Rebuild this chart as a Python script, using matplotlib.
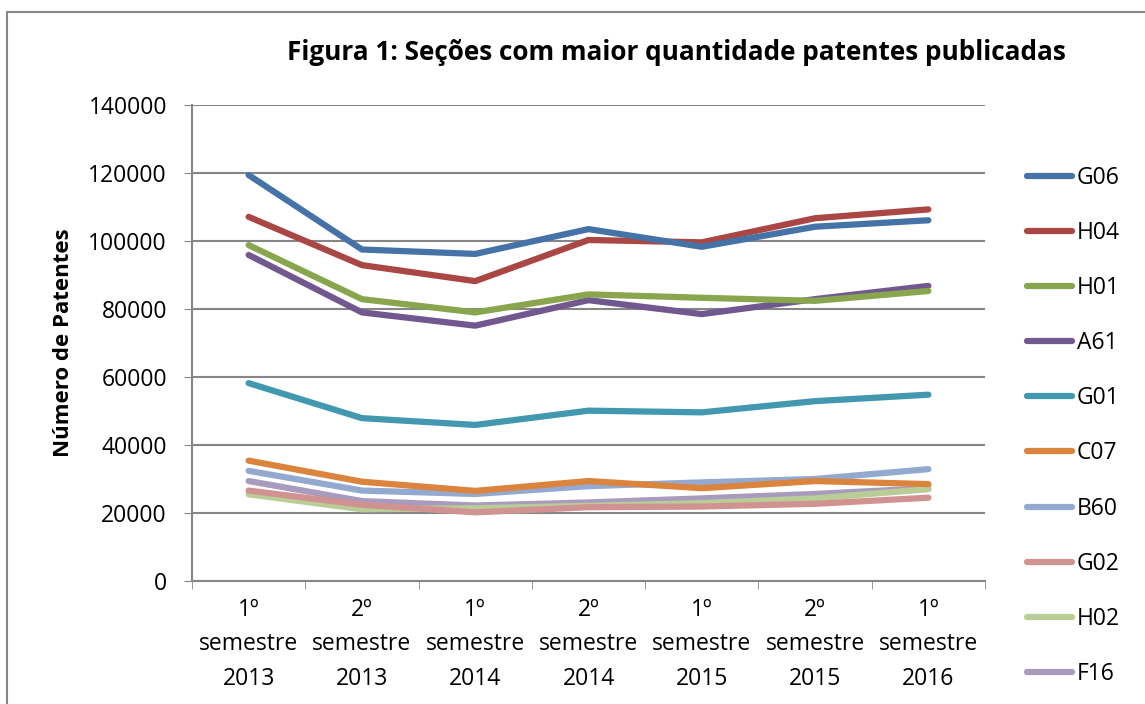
import matplotlib.pyplot as plt
from matplotlib.patches import Rectangle

plt.rcParams['font.family'] = ['Open Sans', 'DejaVu Sans']

periodos = ["1º\nsemestre\n2013", "2º\nsemestre\n2013", "1º\nsemestre\n2014",
            "2º\nsemestre\n2014", "1º\nsemestre\n2015", "2º\nsemestre\n2015",
            "1º\nsemestre\n2016"]

G06 = [119400, 97500, 96200, 103500, 98300, 104200, 106100]
H04 = [107100, 92900, 88200, 100300, 99600, 106700, 109300]
H01 = [98800, 82900, 79000, 84300, 83300, 82400, 85300]
A61 = [95900, 79000, 75100, 82600, 78500, 82900, 86800]
G01 = [58200, 47900, 45900, 50100, 49600, 52900, 54800]
C07 = [35400, 29200, 26500, 29400, 27300, 29400, 28500]
B60 = [32400, 26600, 25600, 27900, 29000, 30000, 32900]
G02 = [26600, 22400, 20200, 21700, 21900, 22700, 24500]
H02 = [25500, 21100, 21400, 22100, 22900, 24300, 27000]
F16 = [29400, 23500, 22200, 23100, 24300, 25600, 27300]

series = [("G06", G06, "#4572A7"), ("H04", H04, "#AA4643"),
          ("H01", H01, "#89A54E"), ("A61", A61, "#71588F"),
          ("G01", G01, "#4198AF"), ("C07", C07, "#DB843D"),
          ("B60", B60, "#93A9CF"), ("G02", G02, "#D19392"),
          ("H02", H02, "#B9CD96"), ("F16", F16, "#A99BBD")]

fig = plt.figure(figsize=(11.45, 7.04), dpi=100)
ax = fig.add_axes([192/1145, 1-581/704, 793/1145, 476/704])

# borda do gráfico
fig.patches.append(Rectangle((7/1145, -0.05), 1.1, 1-12/704+0.05,
                             transform=fig.transFigure, fill=False,
                             edgecolor="#868686", linewidth=1.5))

x = list(range(len(periodos)))
# desenha de trás para frente para que G06 fique por cima
for nome, vals, cor in reversed(series):
    ax.plot(x, vals, color=cor, linewidth=4.5, solid_capstyle="round",
            solid_joinstyle="round", label=nome)

ax.set_xlim(-0.5, len(periodos) - 0.5)
ax.set_ylim(0, 140000)
ax.set_yticks(range(0, 140001, 20000))
ax.set_xticks(x)
ax.set_xticklabels(periodos, fontsize=16.5, linespacing=1.6)
ax.tick_params(axis="y", labelsize=16.5, length=6, color="#868686", pad=12)
ax.tick_params(axis="x", length=0, pad=12)
ax.set_xticks([i - 0.5 for i in range(len(periodos) + 1)], minor=True)
ax.tick_params(axis="x", which="minor", length=6, color="#868686")
ax.grid(axis="y", color="#868686", linewidth=1.5)
ax.set_axisbelow(True)
for s in ["top", "right"]:
    ax.spines[s].set_visible(False)
for s in ["left", "bottom"]:
    ax.spines[s].set_color("#868686")
    ax.spines[s].set_linewidth(1.5)

ax.set_ylabel("Número de Patentes", fontsize=16, fontweight="bold", labelpad=10)
fig.text(676/1145, 1-52/704, "Figura 1: Seções com maior quantidade patentes publicadas",
         ha="center", va="center", fontsize=18.8, fontweight="bold")

handles, labels = ax.get_legend_handles_labels()
leg = fig.legend(handles[::-1], labels[::-1], loc="upper left",
                 bbox_to_anchor=(1006/1145, 1-145/704), frameon=False,
                 fontsize=16.5, handlelength=2.0, labelspacing=1.36,
                 handletextpad=0.2)

fig.savefig("out.png", dpi=100)
